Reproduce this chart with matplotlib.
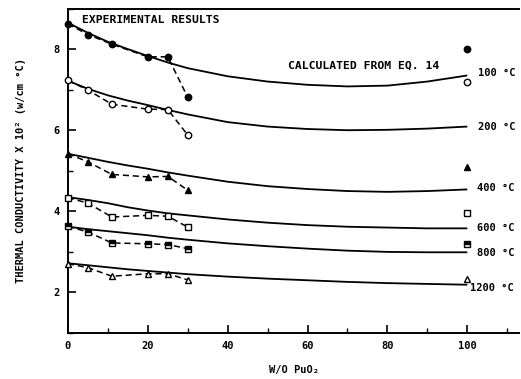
import matplotlib
matplotlib.use("Agg")
import matplotlib.pyplot as plt
from matplotlib.ticker import MultipleLocator

plt.rcParams['font.family'] = ['DejaVu Sans Mono', 'DejaVu Sans']
plt.rcParams['font.weight'] = 'bold'

# Temperatures of the isotherms
temp_labels = ["100 °C", "200 °C", "400 °C", "600 °C", "800 °C", "1200 °C"]

# Calculated curves (Eq. 14), conductivity x 10^2 in w/cm °C vs w/o PuO2
calc_x = [0, 5, 10, 15, 20, 25, 30, 40, 50, 60, 70, 80, 90, 100]
calc_100 = [8.65, 8.40, 8.18, 8.00, 7.83, 7.67, 7.53, 7.33, 7.20, 7.12, 7.08, 7.10, 7.20, 7.35]
calc_200 = [7.22, 7.02, 6.86, 6.73, 6.62, 6.50, 6.39, 6.20, 6.09, 6.03, 6.00, 6.01, 6.04, 6.09]
calc_400 = [5.42, 5.32, 5.22, 5.13, 5.05, 4.96, 4.88, 4.73, 4.62, 4.55, 4.50, 4.48, 4.50, 4.54]
calc_600 = [4.35, 4.28, 4.20, 4.10, 4.02, 3.95, 3.90, 3.80, 3.72, 3.66, 3.62, 3.60, 3.58, 3.58]
calc_800 = [3.62, 3.56, 3.51, 3.46, 3.41, 3.35, 3.30, 3.21, 3.14, 3.08, 3.03, 3.00, 2.99, 2.99]
calc_1200 = [2.72, 2.67, 2.62, 2.57, 2.53, 2.49, 2.45, 2.39, 2.34, 2.30, 2.26, 2.23, 2.21, 2.19]

# Experimental results for mixed oxides
exp_x = [0, 5, 11, 20, 25, 30]
exp_100 = [8.62, 8.36, 8.12, 7.81, 7.81, 6.81]
exp_200 = [7.23, 6.99, 6.64, 6.52, 6.51, 5.88]
exp_400 = [5.42, 5.22, 4.91, 4.85, 4.86, 4.52]
exp_600 = [4.34, 4.20, 3.86, 3.90, 3.88, 3.61]
exp_800 = [3.63, 3.49, 3.22, 3.20, 3.18, 3.08]
exp_1200 = [2.71, 2.61, 2.40, 2.46, 2.46, 2.31]

# Pure PuO2 measurements
pure_x = 100
pure_vals = [8.00, 7.18, 5.09, 3.97, 3.20, 2.33]

calc_series = [calc_100, calc_200, calc_400, calc_600, calc_800, calc_1200]
exp_series = [exp_100, exp_200, exp_400, exp_600, exp_800, exp_1200]

marker_styles = [
    dict(marker='o', mfc='black', fillstyle='full'),
    dict(marker='o', mfc='white', fillstyle='full'),
    dict(marker='^', mfc='black', fillstyle='full'),
    dict(marker='s', mfc='white', fillstyle='full'),
    dict(marker='s', mfc='black', mfcalt='white', fillstyle='top'),
    dict(marker='^', mfc='white', fillstyle='full'),
]
label_pos = [(102.8, 7.40), (102.8, 6.07), (102.5, 4.57),
             (102.5, 3.60), (102.5, 2.98), (100.8, 2.12)]

fig = plt.figure(figsize=(5.21, 3.79), dpi=100)
ax = fig.add_axes([0.1305, 0.1214, 0.866, 0.856])

for calc, exp, pure, ms, lab, pos in zip(calc_series, exp_series, pure_vals,
                                         marker_styles, temp_labels, label_pos):
    ax.plot(calc_x, calc, color='black', lw=1.3, solid_capstyle='butt',
            solid_joinstyle='round', zorder=2, clip_on=False)
    ax.plot(exp_x, exp, color='black', lw=1.1, ls=(0, (4, 2.5)),
            markersize=4.6, mec='black', mew=1.0, zorder=3, clip_on=False, **ms)
    ax.plot([pure_x], [pure], ls='none', markersize=4.6, mec='black',
            mew=1.0, zorder=3, clip_on=False, **ms)
    ax.text(pos[0], pos[1], lab, fontsize=7.5, fontweight='bold',
            ha='left', va='center')

ax.text(3.5, 8.72, "EXPERIMENTAL RESULTS", fontsize=8.2, fontweight='bold',
        ha='left', va='center')
ax.text(55, 7.60, "CALCULATED FROM EQ. 14", fontsize=8.2, fontweight='bold',
        ha='left', va='center')

ax.set_xlim(0, 113)
ax.set_ylim(1, 9)
ax.spines['right'].set_visible(False)
for side in ['left', 'top', 'bottom']:
    ax.spines[side].set_linewidth(1.4)

ax.xaxis.set_minor_locator(MultipleLocator(10))
ax.yaxis.set_minor_locator(MultipleLocator(1))
ax.set_xticks([0, 20, 40, 60, 80, 100])
ax.set_yticks([2, 4, 6, 8])
ax.tick_params(axis='both', which='major', direction='in', length=6,
               width=1.2, labelsize=7.5, top=False, right=False)
ax.tick_params(axis='both', which='minor', direction='in', length=3.5,
               width=1.0, top=False, right=False)
ax.tick_params(axis='x', which='major', pad=6)
ax.tick_params(axis='y', which='major', pad=6)

ax.set_xlabel("W/O PuO₂", fontsize=7.5, fontweight='bold', labelpad=10)
ax.set_ylabel("THERMAL CONDUCTIVITY X 10² (w/cm °C)", fontsize=7.5,
              fontweight='bold', labelpad=20)

fig.savefig("out.png", dpi=100)
